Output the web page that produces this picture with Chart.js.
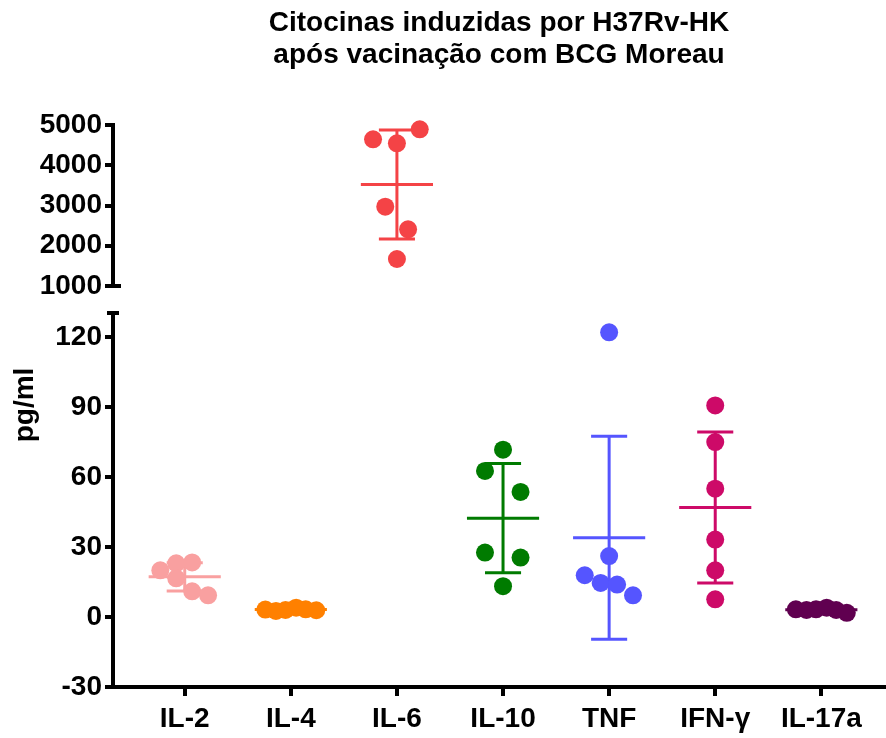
<!DOCTYPE html>
<html>
<head>
<meta charset="utf-8">
<script src="https://cdn.jsdelivr.net/npm/chart.js@4.4.1/dist/chart.umd.min.js"></script>
<style>
  html, body { margin: 0; padding: 0; background: #fff; }
  #wrap { position: relative; width: 886px; height: 738px; }
  #wrap canvas { position: absolute; left: 0; top: 0; }
</style>
</head>
<body>
<div id="wrap">
  <canvas id="topChart" width="886" height="738"></canvas>
  <canvas id="bottomChart" width="886" height="738"></canvas>
</div>
<script>
// categorias e valores (pg/ml)
const categories = ["IL-2", "IL-4", "IL-6", "IL-10", "TNF", "IFN-γ", "IL-17a"];
const il2   = [20.0, 23.0, 23.4, 16.6, 11.0, 9.3];
const il4   = [3.2, 2.6, 3.0, 4.0, 3.3, 2.9];
const il6   = [4645, 4545, 4893, 2971, 2409, 1671];
const il10  = [71.7, 62.6, 53.6, 27.6, 25.5, 13.2];
const tnf   = [26.1, 17.9, 14.6, 13.9, 9.3, 122.0];
const ifng  = [90.7, 75.0, 55.0, 33.2, 20.0, 7.6];
const il17a = [3.3, 3.0, 3.3, 4.0, 3.0, 1.8];

// deslocamento horizontal de cada ponto (em unidades de categoria)
const jitter = [
  [-0.23, -0.08, 0.07, -0.08, 0.07, 0.22],
  [-0.24, -0.14, -0.05, 0.05, 0.14, 0.24],
  [-0.225, 0, 0.215, -0.11, 0.105, 0],
  [0, -0.17, 0.165, -0.17, 0.165, 0],
  [0, -0.23, -0.08, 0.075, 0.225, 0],
  [0, 0, 0, 0, 0, 0],
  [-0.24, -0.14, -0.05, 0.05, 0.14, 0.24]
];

const topTicks = [1000, 2000, 3000, 4000, 5000];
const bottomTicks = [-30, 0, 30, 60, 90, 120];

const groups = [il2, il4, il6, il10, tnf, ifng, il17a];
const colors = ["#F9A0A0", "#FF8000", "#F44346", "#007B00", "#5555FF", "#CD0A68", "#600050"];
const FONT = '"Liberation Sans", Arial, sans-serif';

Chart.defaults.font.family = FONT;
Chart.defaults.color = "#000";

function meanSd(vals) {
  const m = vals.reduce((a, b) => a + b, 0) / vals.length;
  const v = vals.reduce((a, b) => a + (b - m) * (b - m), 0) / (vals.length - 1);
  return { m, sd: Math.sqrt(v) };
}

// media + desvio padrao como segmentos de linha
function errorBar(i) {
  const { m, sd } = meanSd(groups[i]);
  const gap = { x: i, y: null };
  return [
    { x: i - 0.34, y: m }, { x: i + 0.34, y: m }, gap,
    { x: i, y: m - sd }, { x: i, y: m + sd }, gap,
    { x: i - 0.17, y: m + sd }, { x: i + 0.17, y: m + sd }, gap,
    { x: i - 0.17, y: m - sd }, { x: i + 0.17, y: m - sd }
  ];
}

function datasetsFor(idxs) {
  const out = [];
  idxs.forEach(i => {
    out.push({
      type: "scatter",
      data: groups[i].map((v, j) => ({ x: i + jitter[i][j], y: v })),
      backgroundColor: colors[i],
      borderWidth: 0,
      pointRadius: 9,
      pointHoverRadius: 9,
      clip: false
    });
    out.push({
      type: "line",
      data: errorBar(i),
      borderColor: colors[i],
      borderWidth: 3,
      pointRadius: 0,
      spanGaps: false,
      tension: 0,
      clip: false
    });
  });
  return out;
}

const tickFont = { family: FONT, size: 28, weight: "bold" };

function yAxis(min, max, keep) {
  return {
    type: "linear",
    min: min, max: max,
    afterFit: s => { s.width = 113; },
    afterBuildTicks: s => { s.ticks = keep.map(v => ({ value: v })); },
    ticks: { color: "#000", padding: 3, font: tickFont, callback: v => String(v) },
    grid: { drawOnChartArea: false, tickLength: 8, lineWidth: 4, color: "#000" },
    border: { display: true, width: 4, color: "#000" }
  };
}

const xMin = -0.676, xMax = 6.6;

// pequena barra horizontal na quebra do eixo
const axisCap = {
  id: "axisCap",
  afterDraw(chart, args, opts) {
    const y = chart.scales.y, ctx = chart.ctx;
    const py = y.getPixelForValue(opts.value);
    ctx.save();
    ctx.strokeStyle = "#000";
    ctx.lineWidth = 4;
    ctx.beginPath();
    ctx.moveTo(y.right - opts.half, py);
    ctx.lineTo(y.right + opts.half, py);
    ctx.stroke();
    ctx.restore();
  }
};

const yLabel = {
  id: "yLabel",
  afterDraw(chart, args, opts) {
    const ctx = chart.ctx;
    ctx.save();
    ctx.translate(opts.x, opts.y);
    ctx.rotate(-Math.PI / 2);
    ctx.font = "bold 28px " + FONT;
    ctx.textAlign = "center";
    ctx.textBaseline = "middle";
    ctx.fillStyle = "#000";
    ctx.fillText(opts.text, 0, 0);
    ctx.restore();
  }
};

// parte de cima: IL-6
new Chart(document.getElementById("topChart"), {
  type: "scatter",
  data: { datasets: datasetsFor([2]) },
  plugins: [axisCap],
  options: {
    responsive: false,
    animation: false,
    devicePixelRatio: 1,
    layout: { autoPadding: false, padding: { top: 0, right: 1, bottom: 452, left: 0 } },
    plugins: {
      legend: { display: false },
      tooltip: { enabled: false },
      title: {
        display: true,
        fullSize: false,
        text: ["Citocinas induzidas por H37Rv-HK", "após vacinação com BCG Moreau"],
        color: "#000",
        font: { family: FONT, size: 28, weight: "bold", lineHeight: 1.143 },
        padding: { top: 7, bottom: 54 }
      },
      axisCap: { value: 1000, half: 8 }
    },
    scales: {
      x: { type: "linear", display: false, min: xMin, max: xMax },
      y: yAxis(1000, 5000, topTicks)
    }
  }
});

// parte de baixo: restantes citocinas
new Chart(document.getElementById("bottomChart"), {
  type: "scatter",
  data: { datasets: datasetsFor([0, 1, 3, 4, 5, 6]) },
  plugins: [axisCap, yLabel],
  options: {
    responsive: false,
    animation: false,
    devicePixelRatio: 1,
    layout: { autoPadding: false, padding: { top: 313, right: 1, bottom: 0, left: 0 } },
    plugins: {
      legend: { display: false },
      tooltip: { enabled: false },
      axisCap: { value: 130.3, half: 6 },
      yLabel: { text: "pg/ml", x: 25, y: 405 }
    },
    scales: {
      x: {
        type: "linear",
        min: xMin, max: xMax,
        afterFit: s => { s.height = 51; },
        afterBuildTicks: s => { s.ticks = categories.map((c, i) => ({ value: i })); },
        ticks: { autoSkip: false, maxRotation: 0, padding: 6, color: "#000", font: tickFont,
                 callback: v => categories[v] },
        grid: { drawOnChartArea: false, tickLength: 9, lineWidth: 4, color: "#000" },
        border: { display: true, width: 4, color: "#000" }
      },
      y: yAxis(-30, 130.3, bottomTicks)
    }
  }
});
</script>
</body>
</html>
